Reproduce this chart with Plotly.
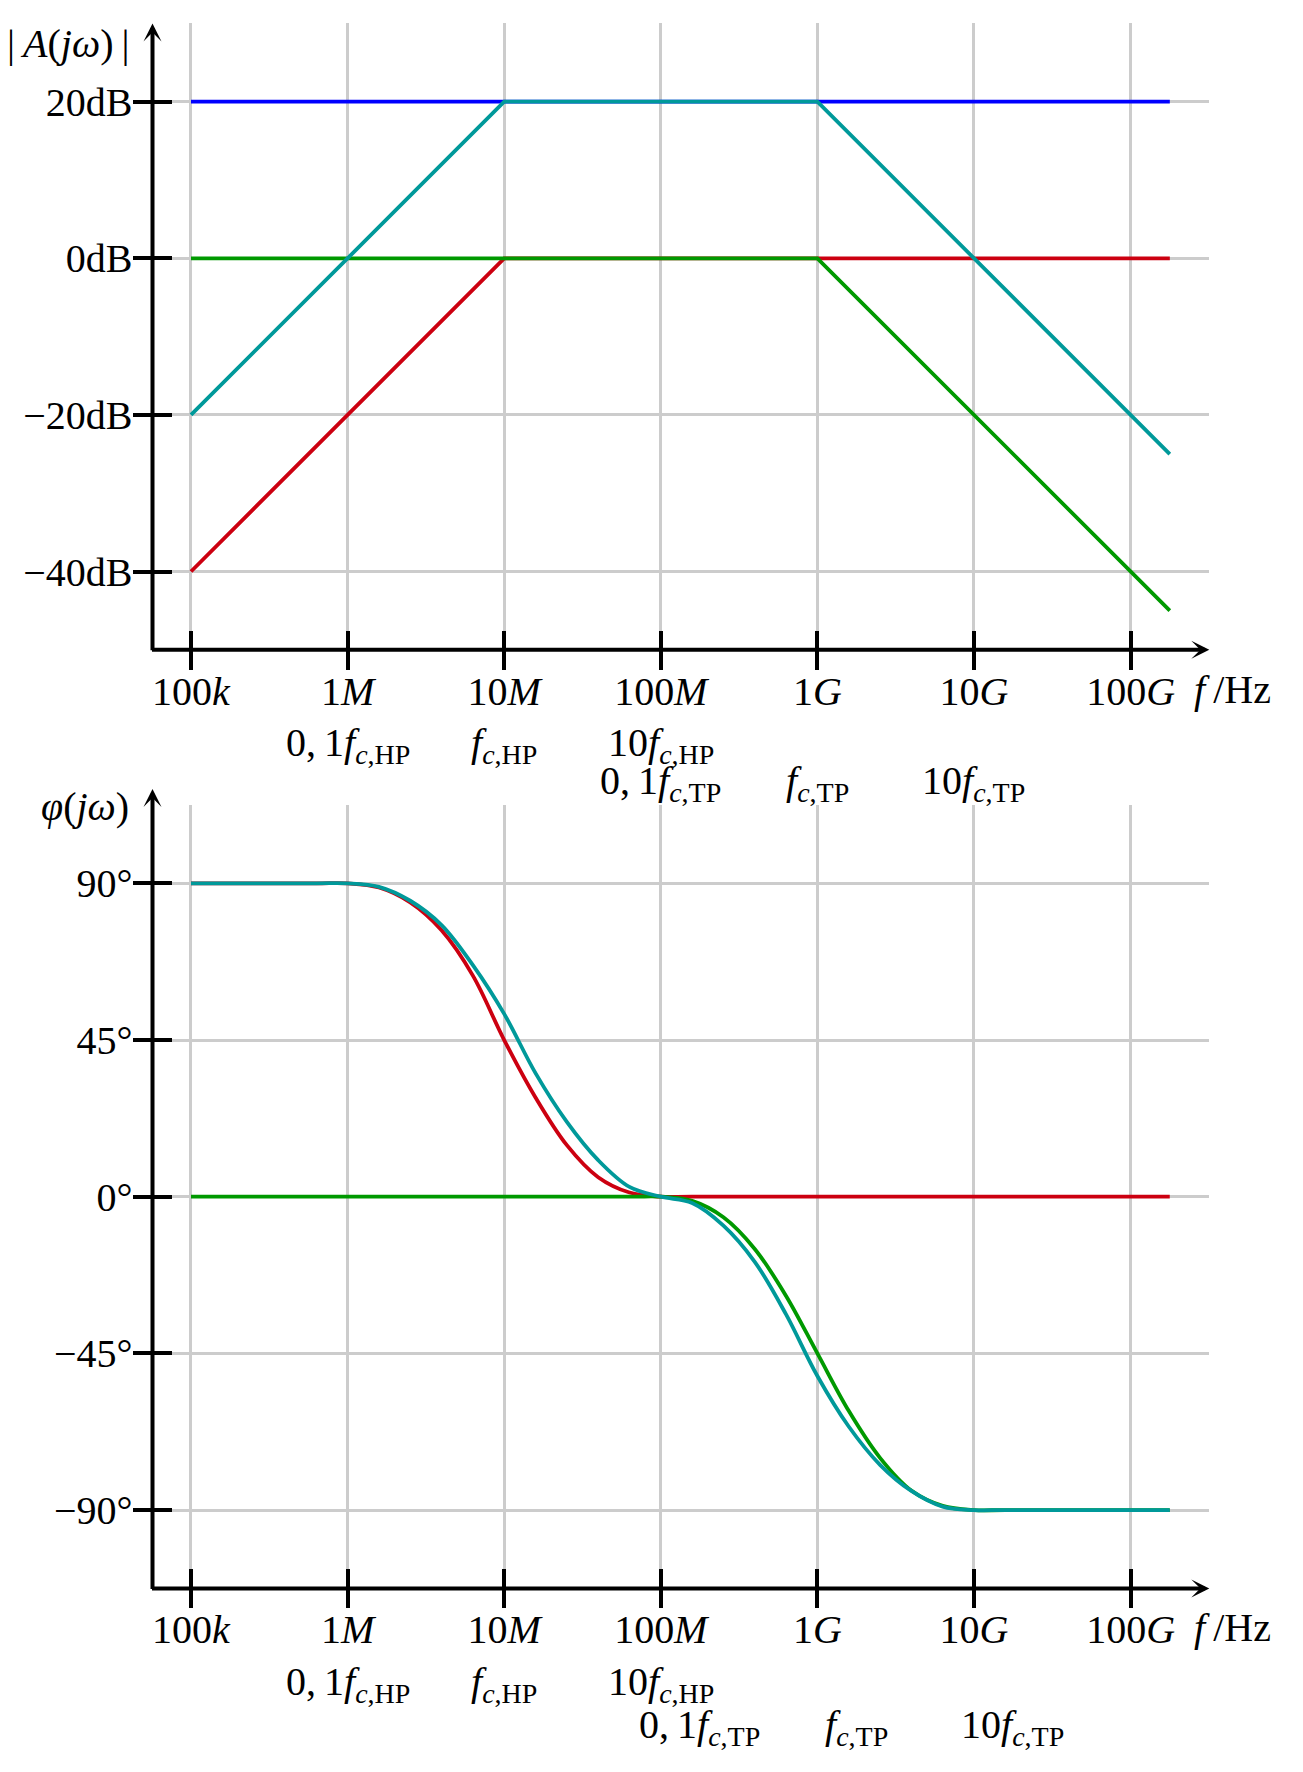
import numpy as np
import plotly.graph_objects as go

# the page body adds an 8px margin, so the figure is 16px smaller than the window
OFF = 8
W, H = 1303 - 2 * OFF, 1772 - 2 * OFF
FONT = dict(family="Liberation Serif", size=40, color="black")

# decade ticks of the frequency axis
tick_hz = [1e5, 1e6, 1e7, 1e8, 1e9, 1e10, 1e11]
tick_text = ["100<i>k</i>", "1<i>M</i>", "10<i>M</i>", "100<i>M</i>",
             "1<i>G</i>", "10<i>G</i>", "100<i>G</i>"]

# second / third label rows
hp_hz = [1e6, 1e7, 1e8]
hp_text = ["0,\u20091<i>f</i><sub><i>c</i>,HP</sub>",
           "<i>f</i><sub><i>c</i>,HP</sub>",
           "10<i>f</i><sub><i>c</i>,HP</sub>"]
tp_hz = [1e8, 1e9, 1e10]
tp_text = ["0,\u20091<i>f</i><sub><i>c</i>,TP</sub>",
           "<i>f</i><sub><i>c</i>,TP</sub>",
           "10<i>f</i><sub><i>c</i>,TP</sub>"]

db_ticks = [-40, -20, 0, 20]
db_text = ["\u221240dB", "\u221220dB", "0dB", "20dB"]
deg_ticks = [-90, -45, 0, 45, 90]
deg_text = ["\u221290\u00b0", "\u221245\u00b0", "0\u00b0", "45\u00b0", "90\u00b0"]

# magnitude, asymptotic (dB)
blue_hz = [1e5, 1.78e11]
blue_db = [20, 20]
red_hz = [1e5, 1e7, 1.78e11]
red_db = [-40, 0, 0]
green_hz = [1e5, 1e9, 1.78e11]
green_db = [0, 0, -45]
cyan_hz = [1e5, 1e7, 1e9, 1.78e11]
cyan_db = [-20, 20, 20, -25]

# phase (deg), read at log10(f)
red_exp = [5, 5.8, 6, 6.2, 6.4, 6.6, 6.8, 7.0, 7.2, 7.4, 7.6, 7.8, 8, 8.2, 11.25]
red_deg = [90, 90, 90, 88.8, 84.5, 76.5, 63.5, 45, 28.5, 14.8, 5.6, 1.2, 0, 0, 0]
green_exp = [5, 7.8, 8, 8.2, 8.4, 8.6, 8.8, 9.0, 9.2, 9.4, 9.6, 9.8, 10, 10.2, 11.25]
green_deg = [0, 0, 0, -1.2, -5.9, -15, -28.5, -45, -61.5, -75, -84.4, -88.8, -90, -90, -90]
cyan_exp = [5, 5.8, 6, 6.2, 6.4, 6.6, 6.8, 7.0, 7.2, 7.4, 7.6, 7.8, 8.0,
            8.2, 8.4, 8.6, 8.8, 9.0, 9.2, 9.4, 9.6, 9.8, 10, 10.2, 11.25]
cyan_deg = [90, 90, 90, 89, 85, 78, 66.5, 52.5, 35.5, 21.5, 10.5, 2.8, 0,
            -1.8, -8.3, -18.7, -33.8, -51.5, -66, -77, -84.5, -89, -90, -90, -90]

C_BLUE, C_RED, C_GREEN, C_CYAN = "#0000ff", "#cc0010", "#009900", "#00999a"
LW = 3.8


def px(p):
    return (p - OFF) / W


def py(p):
    return 1 - (p - OFF) / H


XL, XR = 4.7542, 11.5026
x_dom = [px(152.5), px(1209.3)]
top_dom = [py(649.8), py(23.4)]
bot_dom = [py(1588.4), py(805)]

fig = go.Figure()


def line(x, y, color, xa, ya, shape="linear"):
    fig.add_trace(go.Scatter(x=x, y=y, mode="lines", xaxis=xa, yaxis=ya,
                             line=dict(color=color, width=LW, shape=shape),
                             showlegend=False, hoverinfo="skip"))


line(blue_hz, blue_db, C_BLUE, "x", "y")
line(red_hz, red_db, C_RED, "x", "y")
line(green_hz, green_db, C_GREEN, "x", "y")
line(cyan_hz, cyan_db, C_CYAN, "x", "y")

line(10 ** np.array(red_exp), red_deg, C_RED, "x2", "y2", "spline")
line(10 ** np.array(green_exp), green_deg, C_GREEN, "x2", "y2", "spline")
line(10 ** np.array(cyan_exp), cyan_deg, C_CYAN, "x2", "y2", "spline")

# invisible traces so the overlay axes (inner half of the ticks) get drawn
for xa, ya in [("x3", "y3"), ("x4", "y4")]:
    fig.add_trace(go.Scatter(x=[1e5], y=[0], xaxis=xa, yaxis=ya, mode="markers",
                             marker=dict(opacity=0), showlegend=False, hoverinfo="skip"))

tick_common = dict(ticklen=19, tickwidth=4, tickcolor="black", showline=False,
                   zeroline=False, tickfont=FONT)
grid = dict(showgrid=True, gridcolor="#cccccc", gridwidth=3)


def xaxis(anchor, **kw):
    return dict(domain=x_dom, anchor=anchor, type="log", range=[XL, XR],
                tickvals=tick_hz, ticktext=tick_text, **tick_common, **kw)


fig.update_layout(
    width=W, height=H, autosize=False,
    margin=dict(l=0, r=0, t=0, b=0),
    plot_bgcolor="white", paper_bgcolor="white",
    xaxis=xaxis("y", ticks="outside", ticklabelstandoff=-13, **grid),
    yaxis=dict(domain=top_dom, anchor="x", range=[-50, 30], tickvals=db_ticks,
               ticktext=db_text, ticks="outside", ticklabelstandoff=-8,
               **tick_common, **grid),
    xaxis2=xaxis("y2", ticks="outside", ticklabelstandoff=-13, **grid),
    yaxis2=dict(domain=bot_dom, anchor="x2", range=[-112.5, 112.5], tickvals=deg_ticks,
                ticktext=deg_text, ticks="outside", ticklabelstandoff=-8,
                **tick_common, **grid),
    xaxis3=xaxis("y", overlaying="x", ticks="inside", showticklabels=False, showgrid=False),
    yaxis3=dict(overlaying="y", anchor="x", range=[-50, 30], tickvals=db_ticks,
                ticks="inside", showticklabels=False, showgrid=False, **tick_common),
    xaxis4=xaxis("y2", overlaying="x2", ticks="inside", showticklabels=False, showgrid=False),
    yaxis4=dict(overlaying="y2", anchor="x2", range=[-112.5, 112.5], tickvals=deg_ticks,
                ticks="inside", showticklabels=False, showgrid=False, **tick_common),
)

# axis lines with arrow heads (domain refs so nothing is hidden as off-range)
arrow = dict(text="", showarrow=True, arrowhead=3, arrowsize=0.75, arrowwidth=4,
             arrowcolor="black", standoff=0, startstandoff=0)
plot_w = 1209.3 - 152.5
for xs, ys, top_tip, h in [("x", "y", 0, 649.8 - 23.4), ("x2", "y2", 16, 1588.4 - 805)]:
    xd, yd = xs + " domain", ys + " domain"
    fig.add_annotation(x=1, y=0, ax=-2 / plot_w, ay=0, xref=xd, yref=yd,
                       axref=xd, ayref=yd, **arrow)
    fig.add_annotation(x=0, y=1 + top_tip / h, ax=0, ay=-2 / h, xref=xd, yref=yd,
                       axref=xd, ayref=yd, **arrow)

# extra label rows below the frequency axes
rows = [("x", hp_hz, hp_text, 745, 0), ("x", tp_hz, tp_text, 783, 0),
        ("x2", hp_hz, hp_text, 1684, 0), ("x2", tp_hz, tp_text, 1727, 39)]
for xr, fs, texts, ypix, shift in rows:
    for f, t in zip(fs, texts):
        fig.add_annotation(x=np.log10(f), y=py(ypix), xref=xr, yref="paper", text=t,
                           showarrow=False, xanchor="center", yanchor="middle",
                           xshift=shift, font=FONT)

for ypix in [689, 1627]:
    fig.add_annotation(x=px(1192), y=py(ypix), xref="paper", yref="paper",
                       text="<i>f</i>\u2009/Hz", showarrow=False,
                       xanchor="left", yanchor="middle", font=FONT)

fig.add_annotation(x=px(131), y=py(43), xref="paper", yref="paper",
                   text="|\u2009<i>A</i>(<i>j\u03c9</i>)\u2009|", showarrow=False,
                   xanchor="right", yanchor="middle", font=FONT)
fig.add_annotation(x=px(131), y=py(806), xref="paper", yref="paper",
                   text="<i>\u03c6</i>(<i>j\u03c9</i>)", showarrow=False,
                   xanchor="right", yanchor="middle", font=FONT)

fig.write_html("out.html")
